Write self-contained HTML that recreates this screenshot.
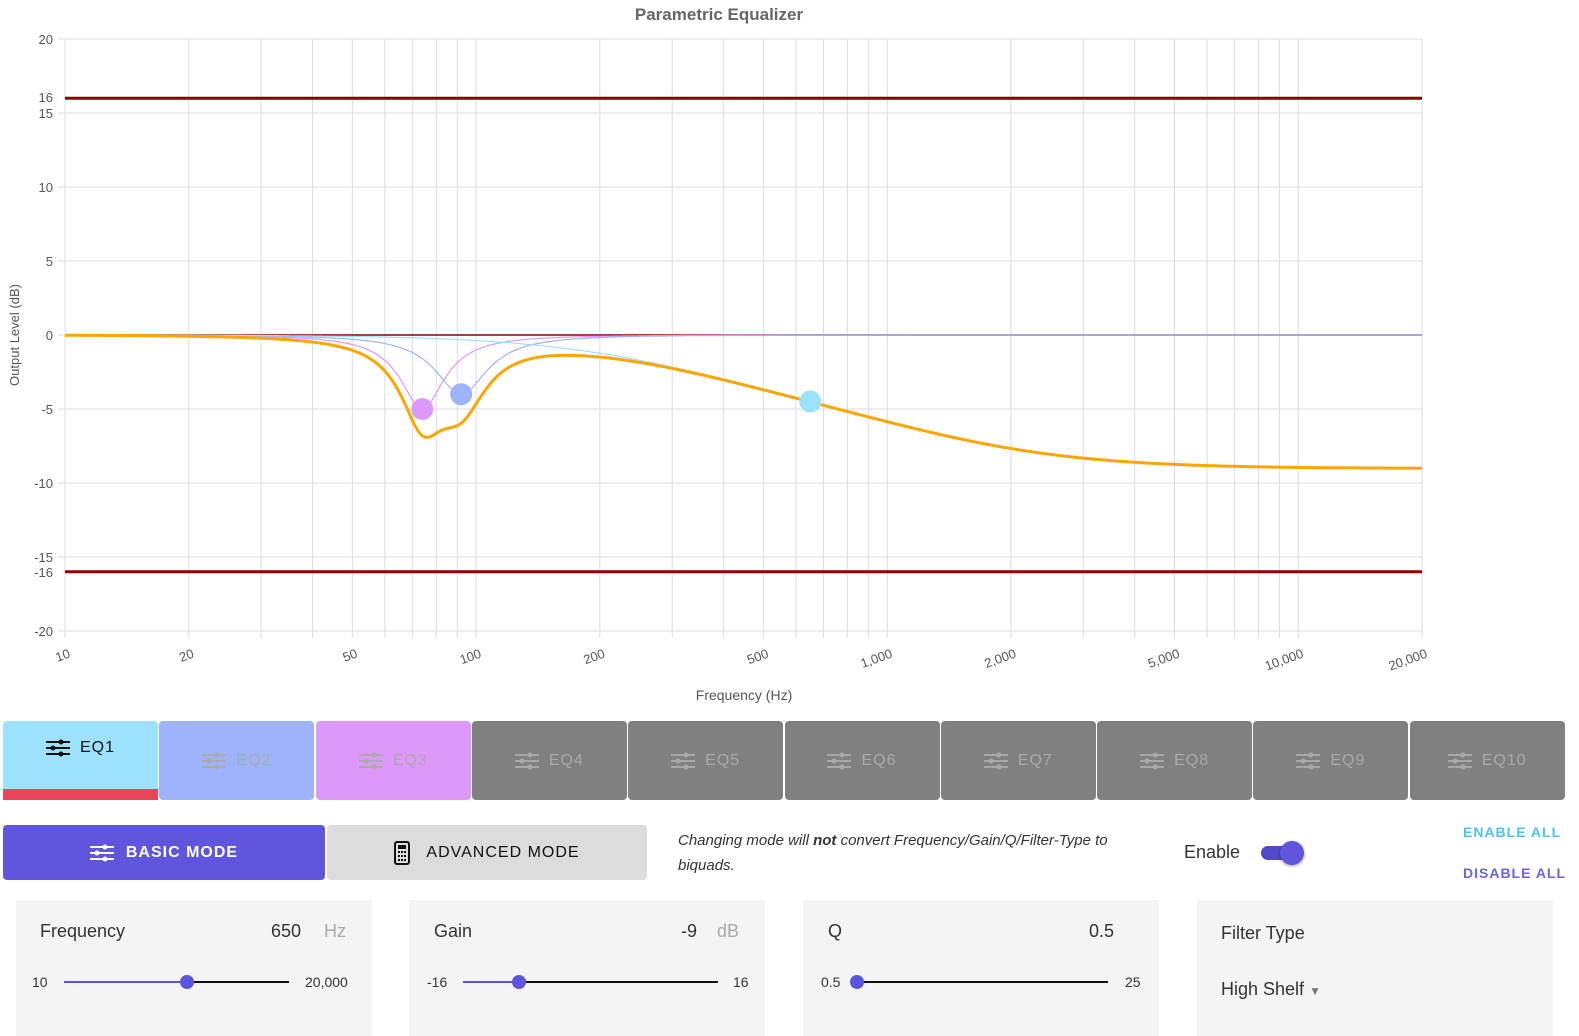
<!DOCTYPE html>
<html><head><meta charset="utf-8"><style>
body{margin:0;width:1579px;height:1036px;overflow:hidden;background:#fff;font-family:"Liberation Sans","DejaVu Sans",sans-serif;position:relative}
.a{position:absolute}
.tab{position:absolute;top:721px;height:79px;width:155px;border-radius:4px;color:#a9a9a9;font-size:16px;letter-spacing:1px;display:flex;align-items:center;justify-content:center;background:#808080}
.tab svg{margin-right:10px}
.panel{position:absolute;top:900px;width:356px;height:136px;background:#f4f4f4}
.lbl{position:absolute;font-size:18px;color:#333}
.sl{position:absolute;top:981px;height:2px;background:#111}
.dot{position:absolute;top:975px;width:14px;height:14px;border-radius:50%;background:#5b55dd}
.sm{position:absolute;top:974px;font-size:14px;color:#333}
</style></head><body>
<svg class="a" style="left:0;top:0" width="1579" height="715" id="ch">
<text x="719" y="20" text-anchor="middle" font-size="17" font-weight="bold" fill="#666">Parametric Equalizer</text>
<text x="744" y="700" text-anchor="middle" font-size="14" fill="#555">Frequency (Hz)</text>
<text transform="translate(19,335) rotate(-90)" text-anchor="middle" font-size="13" fill="#555">Output Level (dB)</text>
<g id="g"></g>
</svg>
<div class="tab" style="left:3px;background:#9de2fd;color:#111;align-items:flex-start;padding-top:18px;box-sizing:border-box;border-radius:4px 4px 0 0"><svg width="24" height="18" viewBox="0 0 24 18"><g stroke="#111" stroke-width="2"><line x1="0" y1="3" x2="24" y2="3"/><line x1="0" y1="9" x2="24" y2="9"/><line x1="0" y1="15" x2="24" y2="15"/></g><circle cx="15" cy="3" r="2.5" fill="#111"/><circle cx="7" cy="9" r="2.5" fill="#111"/><circle cx="15" cy="15" r="2.5" fill="#111"/></svg>EQ1</div>
<div class="a" style="left:3px;top:789px;width:155px;height:11px;background:#e9445a"></div>
<div id="tabs"></div>
<div class="a" style="left:3px;top:825px;width:322px;height:55px;background:#5f56dd;border-radius:4px;color:#fff;font-size:16px;font-weight:bold;letter-spacing:1px;display:flex;align-items:center;justify-content:center"><svg width="24" height="18" style="margin-right:12px"><g stroke="#fff" stroke-width="2"><line x1="0" y1="3" x2="24" y2="3"/><line x1="0" y1="9" x2="24" y2="9"/><line x1="0" y1="15" x2="24" y2="15"/></g><circle cx="15" cy="3" r="2.5" fill="#fff"/><circle cx="7" cy="9" r="2.5" fill="#fff"/><circle cx="15" cy="15" r="2.5" fill="#fff"/></svg>BASIC MODE</div>
<div class="a" style="left:327px;top:825px;width:320px;height:55px;background:#dcdcdc;border-radius:4px;color:#111;font-size:16px;letter-spacing:1px;display:flex;align-items:center;justify-content:center"><svg width="16" height="24" style="margin-right:16px"><rect x="1" y="1" width="14" height="22" rx="2" fill="none" stroke="#111" stroke-width="2"/><rect x="4" y="4" width="8" height="4" fill="#111"/><g fill="#111"><rect x="4" y="10" width="2" height="2"/><rect x="7" y="10" width="2" height="2"/><rect x="10" y="10" width="2" height="2"/><rect x="4" y="14" width="2" height="2"/><rect x="7" y="14" width="2" height="2"/><rect x="10" y="14" width="2" height="2"/><rect x="4" y="18" width="2" height="2"/><rect x="7" y="18" width="2" height="2"/><rect x="10" y="18" width="2" height="2"/></g></svg>ADVANCED MODE</div>
<div class="a" style="left:678px;top:828px;font-size:15px;font-style:italic;color:#333;line-height:25px;width:475px">Changing mode will <b>not</b> convert Frequency/Gain/Q/Filter-Type to biquads.</div>
<div class="a" style="left:1184px;top:842px;font-size:18px;color:#333">Enable</div>
<div class="a" style="left:1261px;top:846px;width:38px;height:14px;border-radius:7px;background:#5049c8"></div>
<div class="a" style="left:1280px;top:841px;width:24px;height:24px;border-radius:50%;background:#5f56dd;box-shadow:0 1px 3px rgba(0,0,0,.4)"></div>
<div class="a" style="left:1463px;top:824px;font-size:14px;font-weight:bold;color:#4cc3f7;letter-spacing:1px">ENABLE ALL</div>
<div class="a" style="left:1463px;top:865px;font-size:14px;font-weight:bold;color:#6a63ea;letter-spacing:1px">DISABLE ALL</div>
<div class="panel" style="left:16px"></div><div class="panel" style="left:409px"></div><div class="panel" style="left:803px"></div><div class="panel" style="left:1197px"></div>
<div class="lbl" style="left:40px;top:921px">Frequency</div><div class="lbl" style="left:271px;top:921px">650</div><div class="lbl" style="left:324px;top:921px;color:#aaa">Hz</div>
<div class="sm" style="left:32px">10</div><div class="sl" style="left:64px;width:225px"></div><div class="sl" style="left:64px;width:123px;background:#5b55dd"></div><div class="dot" style="left:180px"></div><div class="sm" style="left:305px">20,000</div>
<div class="lbl" style="left:434px;top:921px">Gain</div><div class="lbl" style="left:681px;top:921px">-9</div><div class="lbl" style="left:717px;top:921px;color:#aaa">dB</div>
<div class="sm" style="left:427px">-16</div><div class="sl" style="left:463px;width:255px"></div><div class="sl" style="left:463px;width:56px;background:#5b55dd"></div><div class="dot" style="left:512px"></div><div class="sm" style="left:733px">16</div>
<div class="lbl" style="left:828px;top:921px">Q</div><div class="lbl" style="left:1089px;top:921px">0.5</div>
<div class="sm" style="left:821px">0.5</div><div class="sl" style="left:857px;width:251px"></div><div class="dot" style="left:850px"></div><div class="sm" style="left:1125px">25</div>
<div class="lbl" style="left:1221px;top:923px">Filter Type</div><div class="lbl" style="left:1221px;top:979px">High Shelf <span style="font-size:12px;color:#777">&#9660;</span></div>
<script>
var tabs='',cols=['#9db4fd','#dd99f9'];
for(var i=2;i<=10;i++){var x=3+(i-1)*156.3;tabs+='<div class="tab" style="left:'+x+'px;background:'+(cols[i-2]||'#808080')+'"><svg width="24" height="18"><g stroke="#a9a9a9" stroke-width="2"><line x1="0" y1="3" x2="24" y2="3"/><line x1="0" y1="9" x2="24" y2="9"/><line x1="0" y1="15" x2="24" y2="15"/></g><circle cx="15" cy="3" r="2.5" fill="#a9a9a9"/><circle cx="7" cy="9" r="2.5" fill="#a9a9a9"/><circle cx="15" cy="15" r="2.5" fill="#a9a9a9"/></svg>EQ'+i+'</div>';}
document.getElementById('tabs').innerHTML=tabs;
var L=65,R=1422,T=39,B=631,D=(R-L)/Math.log10(2000);
function X(f){return L+Math.log10(f/10)*D}function Y(d){return 335-d*14.8}
var s='';
[20,15,10,5,0,-5,-10,-15,-20].forEach(function(v){s+='<line x1="'+(L-7)+'" x2="'+R+'" y1="'+Y(v)+'" y2="'+Y(v)+'" stroke="#ddd"/>';s+='<text x="53" y="'+(Y(v)+5)+'" text-anchor="end" font-size="13" fill="#555">'+v+'</text>';});
s+='<text x="53" y="'+(Y(16)+4)+'" text-anchor="end" font-size="13" fill="#555">16</text><text x="53" y="'+(Y(-16)+5)+'" text-anchor="end" font-size="13" fill="#555">-16</text>';
for(var d=10;d<=10000;d*=10)for(var k=1;k<10;k++){var f=d*k;if(f>20000)break;s+='<line x1="'+X(f)+'" x2="'+X(f)+'" y1="'+T+'" y2="'+(B+7)+'" stroke="#ddd"/>';}
s+='<line x1="'+X(20000)+'" x2="'+X(20000)+'" y1="'+T+'" y2="'+(B+7)+'" stroke="#ddd"/>';
[[10,'10'],[20,'20'],[50,'50'],[100,'100'],[200,'200'],[500,'500'],[1000,'1,000'],[2000,'2,000'],[5000,'5,000'],[10000,'10,000'],[20000,'20,000']].forEach(function(t){s+='<text transform="translate('+(X(t[0])+6)+',657) rotate(-20)" text-anchor="end" font-size="13" fill="#555">'+t[1]+'</text>';});
s+='<line x1="'+L+'" x2="'+R+'" y1="'+Y(16)+'" y2="'+Y(16)+'" stroke="#8b0000" stroke-width="3"/>';
s+='<line x1="'+L+'" x2="'+R+'" y1="'+Y(-16)+'" y2="'+Y(-16)+'" stroke="#8b0000" stroke-width="3"/>';
s+='<line x1="'+L+'" x2="'+R+'" y1="'+Y(0)+'" y2="'+Y(0)+'" stroke="#8b0000" stroke-width="1.5"/>';
var fs=48000;
function coef(type,f0,g,Q){var A=Math.pow(10,g/40),w=2*Math.PI*f0/fs,c=Math.cos(w),sn=Math.sin(w),al=sn/(2*Q),b,a;
if(type=='peak'){b=[1+al*A,-2*c,1-al*A];a=[1+al/A,-2*c,1-al/A];}
else{var sq=2*Math.sqrt(A)*al;b=[A*((A+1)+(A-1)*c+sq),-2*A*((A-1)+(A+1)*c),A*((A+1)+(A-1)*c-sq)];a=[(A+1)-(A-1)*c+sq,2*((A-1)-(A+1)*c),(A+1)-(A-1)*c-sq];}
return [b,a];}
function mag(cf,f){var w=2*Math.PI*f/fs,b=cf[0],a=cf[1];
var nr=b[0]+b[1]*Math.cos(w)+b[2]*Math.cos(2*w),ni=-b[1]*Math.sin(w)-b[2]*Math.sin(2*w);
var dr=a[0]+a[1]*Math.cos(w)+a[2]*Math.cos(2*w),di=-a[1]*Math.sin(w)-a[2]*Math.sin(2*w);
return 10*Math.log10((nr*nr+ni*ni)/(dr*dr+di*di));}
var F=[[coef('hs',650,-9,0.42),'#9de2fd'],[coef('peak',92,-4,2.8),'#9db4fd'],[coef('peak',74,-5,3.3),'#dd99f9']];
var paths=['','',''],tot='';
for(var p=0;p<=600;p++){var f=10*Math.pow(2000,p/600),sum=0;for(var j=0;j<3;j++){var m=mag(F[j][0],f);sum+=m;paths[j]+=(p?'L':'M')+X(f).toFixed(1)+','+Y(m).toFixed(1);}tot+=(p?'L':'M')+X(f).toFixed(1)+','+Y(sum).toFixed(1);}
for(var j=2;j>=0;j--)s+='<path d="'+paths[j]+'" fill="none" stroke="'+F[j][1]+'" stroke-width="1.2"/>';
s+='<path d="'+tot+'" fill="none" stroke="#ffa500" stroke-width="3"/>';
s+='<circle cx="'+X(650)+'" cy="'+Y(-4.5)+'" r="11" fill="#9de2fd"/><circle cx="'+X(92)+'" cy="'+Y(-4)+'" r="11" fill="#9db4fd"/><circle cx="'+X(74)+'" cy="'+Y(-5)+'" r="11" fill="#dd99f9"/>';
document.getElementById('g').innerHTML=s;
</script>
</body></html>
